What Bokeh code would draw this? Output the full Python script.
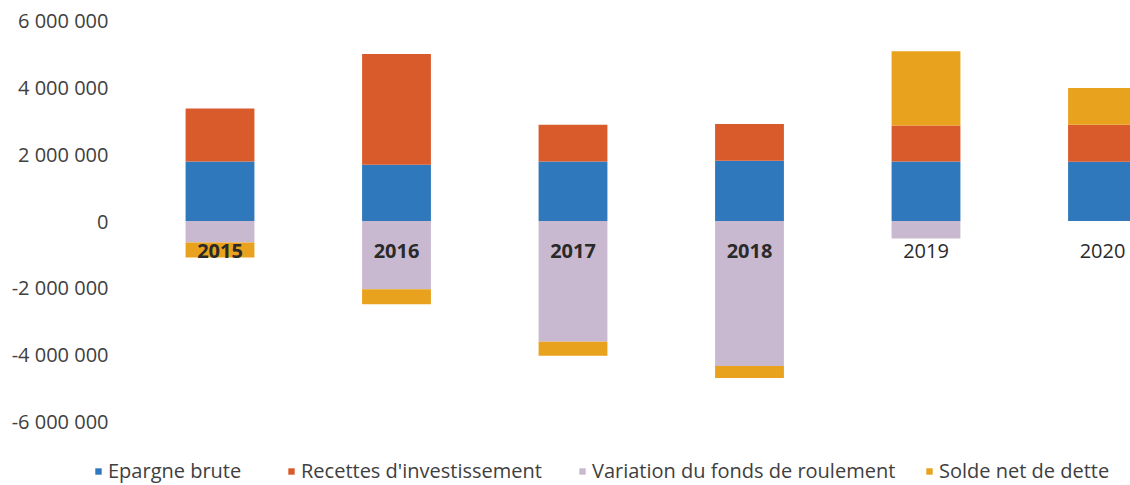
from bokeh.plotting import figure
from bokeh.models import ColumnDataSource, Range1d, FixedTicker, Legend, LegendItem
from bokeh.core.properties import value
from bokeh.embed import file_html
from bokeh.resources import INLINE

# ---- data ----
years = [2015, 2016, 2017, 2018, 2019, 2020]
year_labels = ["2015", "2016", "2017", "2018", "2019", "2020"]
epargne_brute = [1780000, 1680000, 1780000, 1800000, 1780000, 1770000]
recettes_investissement = [1590000, 3320000, 1100000, 1100000, 1080000, 1110000]
variation_fonds_roulement = [-640000, -2040000, -3610000, -4340000, -520000, 0]
solde_net_dette = [-450000, -450000, -420000, -360000, 2220000, 1100000]

series_names = ["Epargne brute", "Recettes d'investissement",
                "Variation du fonds de roulement", "Solde net de dette"]
y_ticks = [-6000000, -4000000, -2000000, 0, 2000000, 4000000, 6000000]
y_tick_labels = ["-6 000 000", "-4 000 000", "-2 000 000", "0",
                 "2 000 000", "4 000 000", "6 000 000"]

# ---- style / geometry ----
colors = ["#2F78BC", "#D95B2C", "#C9B9D0", "#E9A21D"]
FONT = "Open Sans"
TEXT_COLOR = "#404040"
W, H = 1130, 485
FRAME_LEFT, FRAME_TOP = 90, 20
PX_PER_YEAR = 176.5          # horizontal spacing between categories
FIRST_CENTER_PX = 129.5      # first category centre from frame left
PX_PER_UNIT = 401 / 12e6     # vertical scale (6M..-6M spans 401 px)

frame_w = W - FRAME_LEFT
frame_h = H - FRAME_TOP
x_start = years[0] - FIRST_CENTER_PX / PX_PER_YEAR
x_end = x_start + frame_w / PX_PER_YEAR
y_top = y_ticks[-1]
y_bottom = y_top - frame_h / PX_PER_UNIT   # extra room below for the legend

p = figure(width=W, height=H, output_backend="svg", toolbar_location=None,
           x_range=Range1d(x_start, x_end), y_range=Range1d(y_bottom, y_top),
           min_border_left=FRAME_LEFT, min_border_right=0,
           min_border_top=FRAME_TOP, min_border_bottom=0)
p.outline_line_color = None
p.xgrid.visible = False
p.ygrid.visible = False
p.xaxis.visible = False

p.yaxis.ticker = FixedTicker(ticks=y_ticks)
p.yaxis.major_label_overrides = {t: l for t, l in zip(y_ticks, y_tick_labels)}
p.yaxis.axis_line_color = None
p.yaxis.major_tick_line_color = None
p.yaxis.minor_tick_line_color = None
p.yaxis.major_label_standoff = -24
p.yaxis.major_label_text_font = FONT
p.yaxis.major_label_text_font_size = "20px"
p.yaxis.major_label_text_color = TEXT_COLOR

# stacked bars: positives upward, negatives downward (Excel style)
series_values = [epargne_brute, recettes_investissement,
                 variation_fonds_roulement, solde_net_dette]
n = len(years)
pos_base = [0] * n
neg_base = [0] * n
renderers = []
for name, vals, col in zip(series_names, series_values, colors):
    bottoms, tops = [], []
    for i, v in enumerate(vals):
        if v >= 0:
            b = pos_base[i]
            t = b + v
            pos_base[i] = t
        else:
            b = neg_base[i]
            t = b + v
            neg_base[i] = t
        bottoms.append(b)
        tops.append(t)
    src = ColumnDataSource(dict(x=years, bottom=bottoms, top=tops))
    r = p.vbar(x="x", bottom="bottom", top="top", width=0.39, source=src,
               fill_color=col, line_color=None)
    renderers.append((name, r))

# category labels sitting just under the zero line
lab_src = ColumnDataSource(dict(
    x=years, y=[0] * n, text=year_labels,
    style=["bold", "bold", "bold", "bold", "normal", "normal"]))
p.text(x="x", y="y", text="text", source=lab_src, y_offset=30,
       text_align="center", text_baseline="middle",
       text_font=value(FONT), text_font_size="20px", text_color="#2a2a2a",
       text_font_style="style")

# legend, one block per entry, inside the (extended) frame
legend_x = [4, 197, 488, 835]
for (name, r), lx in zip(renderers, legend_x):
    leg = Legend(items=[LegendItem(label=name, renderers=[r])],
                 location=(lx, 1), orientation="horizontal",
                 padding=0, margin=0, spacing=0,
                 border_line_color=None, background_fill_alpha=0,
                 glyph_width=8, glyph_height=8, label_standoff=6,
                 label_height=20,
                 label_text_font=FONT, label_text_font_size="20px",
                 label_text_color=TEXT_COLOR)
    p.add_layout(leg)

open("out.html", "w").write(file_html(p, INLINE))
